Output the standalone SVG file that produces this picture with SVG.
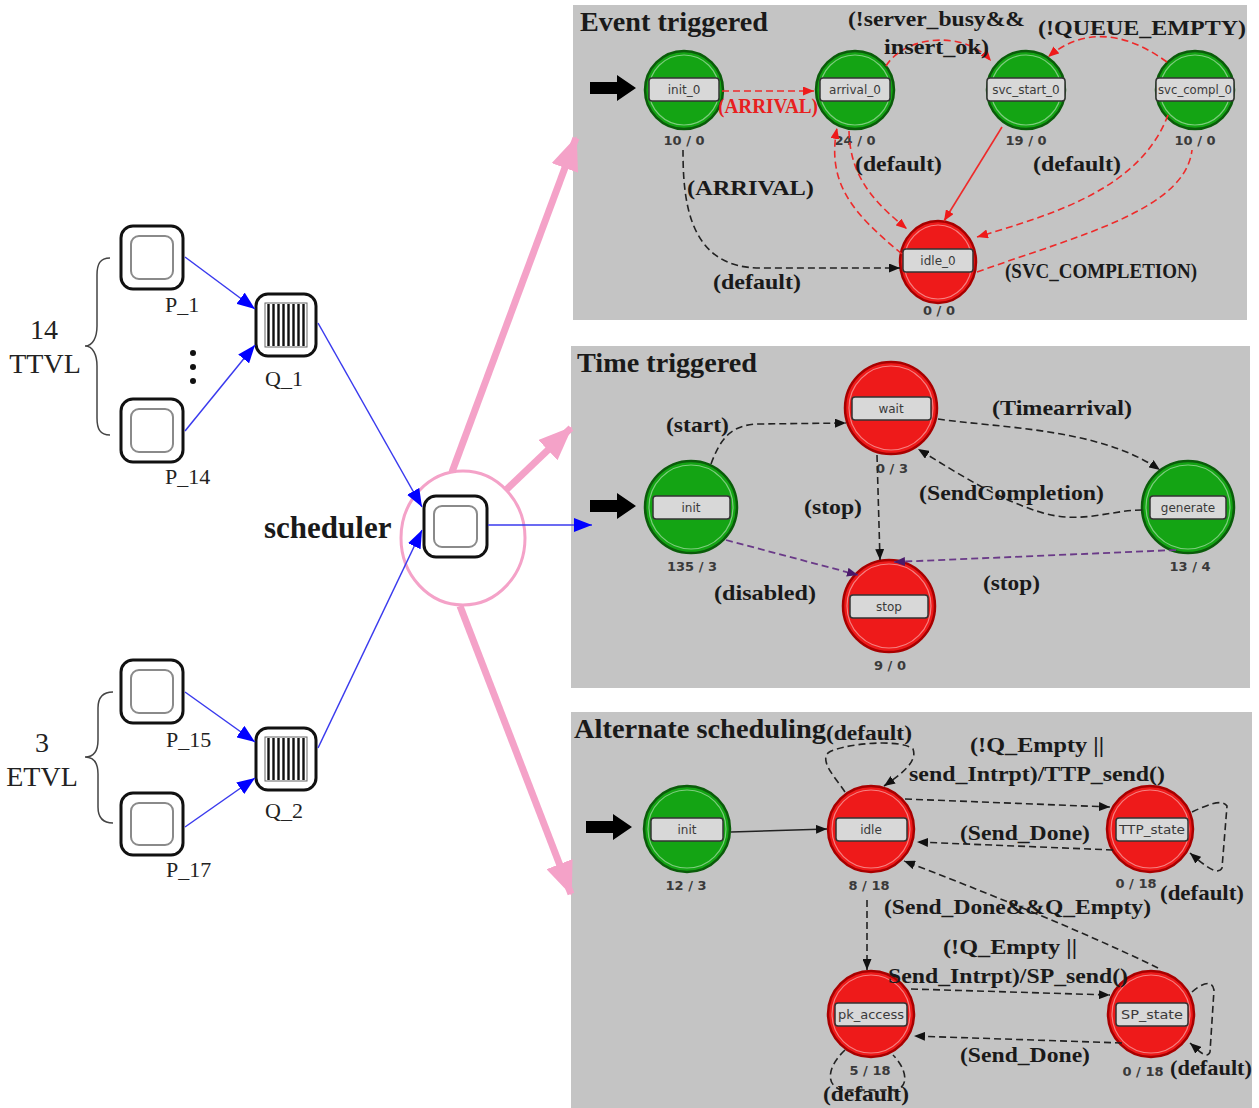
<svg xmlns="http://www.w3.org/2000/svg" width="1259" height="1108" viewBox="0 0 1259 1108">
<defs>
<style>
.panel{fill:#c4c4c4}
.title{font-family:"Liberation Serif",serif;font-weight:bold;font-size:28px;fill:#1a1a1a}
.el{font-family:"Liberation Serif",serif;font-weight:bold;font-size:22px;fill:#1a1a1a}
.red{fill:#e82020}
.nl{font-family:"DejaVu Sans",sans-serif;font-size:12px;fill:#3a3a3a;text-anchor:middle}
.cnt{font-family:"DejaVu Sans",sans-serif;font-size:13px;font-weight:bold;fill:#3a3a3a;text-anchor:middle}
.lft{font-family:"Liberation Serif",serif;font-size:22px;fill:#222}
.big{font-family:"Liberation Serif",serif;font-size:28px;fill:#222;text-anchor:middle}
.gfill{fill:#14a414;stroke:#0a5c0a;stroke-width:2.5}
.rfill{fill:#ee1a1a;stroke:#a80000;stroke-width:2.5}
.ring{fill:none;stroke:#ffffff;stroke-opacity:0.45;stroke-width:1.2}
.lbox{fill:#d8d8d8;stroke:#333;stroke-width:1.5}
.dk{fill:none;stroke:#222;stroke-width:1.6;stroke-dasharray:7 4}
.dr{fill:none;stroke:#ee2a2a;stroke-width:1.6;stroke-dasharray:7 4}
.dp{fill:none;stroke:#6a3a88;stroke-width:1.8;stroke-dasharray:7 4}
.blue{fill:none;stroke:#3a3aee;stroke-width:1.5}
.pink{fill:none;stroke:#f4a2c8;stroke-width:7}
.obox{fill:#fff;stroke:#111;stroke-width:3}
.ibox{fill:none;stroke:#8a8a8a;stroke-width:2}
.brace{fill:none;stroke:#444;stroke-width:1.5}
</style>
<marker id="ak" markerUnits="userSpaceOnUse" markerWidth="11" markerHeight="9" refX="11" refY="4.5" orient="auto"><path d="M0,0 L11,4.5 L0,9 z" fill="#111"/></marker>
<marker id="ar" markerUnits="userSpaceOnUse" markerWidth="11" markerHeight="9" refX="11" refY="4.5" orient="auto"><path d="M0,0 L11,4.5 L0,9 z" fill="#ee1a1a"/></marker>
<marker id="ap" markerUnits="userSpaceOnUse" markerWidth="11" markerHeight="9" refX="11" refY="4.5" orient="auto"><path d="M0,0 L11,4.5 L0,9 z" fill="#4a1a6a"/></marker>
<marker id="ab" markerUnits="userSpaceOnUse" markerWidth="18" markerHeight="14" refX="18" refY="7" orient="auto"><path d="M0,0 L18,7 L0,14 z" fill="#0000ff"/></marker>
<marker id="apk" markerUnits="userSpaceOnUse" markerWidth="34" markerHeight="28" refX="32" refY="14" orient="auto"><path d="M0,0 L34,14 L0,28 z" fill="#f4a2c8"/></marker>
<path id="fat" d="M0,-6 L27,-6 L27,-13 L46,0 L27,13 L27,6 L0,6 z" fill="#000"/>
</defs>
<rect width="1259" height="1108" fill="#fff"/>

<!-- panels -->
<rect class="panel" x="573" y="5" width="674" height="315"/>
<rect class="panel" x="571" y="346" width="679" height="342"/>
<rect class="panel" x="571" y="712" width="681" height="396"/>

<!-- left side nodes -->
<g id="P_1"><rect class="obox" x="121" y="226" width="62" height="63" rx="12"/><rect class="ibox" x="131" y="236" width="42" height="43" rx="8"/><text class="lft" x="165" y="312">P_1</text></g>
<g id="P_14"><rect class="obox" x="121" y="399" width="62" height="63" rx="12"/><rect class="ibox" x="131" y="409" width="42" height="43" rx="8"/><text class="lft" x="165" y="484">P_14</text></g>
<g id="Q_1"><rect class="obox" x="256" y="294" width="60" height="62" rx="12"/><rect x="265" y="303" width="42" height="44" fill="#fff" stroke="#666" stroke-width="1"/>
<path d="M268.5,304V346M273.5,304V346M278.5,304V346M283.5,304V346M288.5,304V346M293.5,304V346M298.5,304V346M303.5,304V346" stroke="#111" stroke-width="2.4"/><text class="lft" x="265" y="386">Q_1</text></g>
<g id="dots" fill="#111"><circle cx="193" cy="353" r="3"/><circle cx="193" cy="367" r="3"/><circle cx="193" cy="381" r="3"/></g>
<g id="TTVL"><path class="brace" d="M110,258 C100,258 97,264 97,275 L97,326 C97,337 93,346 85,346 C93,346 97,355 97,366 L97,418 C97,429 100,435 110,435"/><text class="big" x="44" y="339">14</text><text class="big" x="45" y="373">TTVL</text></g>
<g id="P_15"><rect class="obox" x="121" y="660" width="62" height="63" rx="12"/><rect class="ibox" x="131" y="670" width="42" height="43" rx="8"/><text class="lft" x="166" y="747">P_15</text></g>
<g id="P_17"><rect class="obox" x="121" y="793" width="62" height="62" rx="12"/><rect class="ibox" x="131" y="803" width="42" height="42" rx="8"/><text class="lft" x="166" y="877">P_17</text></g>
<g id="Q_2"><rect class="obox" x="256" y="728" width="60" height="62" rx="12"/><rect x="265" y="737" width="42" height="44" fill="#fff" stroke="#666" stroke-width="1"/>
<path d="M268.5,738V780M273.5,738V780M278.5,738V780M283.5,738V780M288.5,738V780M293.5,738V780M298.5,738V780M303.5,738V780" stroke="#111" stroke-width="2.4"/><text class="lft" x="265" y="818">Q_2</text></g>
<g id="ETVL"><path class="brace" d="M113,692 C103,692 98,698 98,708 L98,740 C98,750 94,757 85,757 C94,757 98,764 98,774 L98,807 C98,817 103,823 113,823"/><text class="big" x="42" y="752">3</text><text class="big" x="42" y="786">ETVL</text></g>

<g id="scheduler">
<ellipse cx="463" cy="538" rx="62" ry="67" fill="none" stroke="#f4a2c8" stroke-width="3"/>
<rect class="obox" x="424" y="496" width="63" height="61" rx="12"/><rect class="ibox" x="434" y="506" width="43" height="41" rx="8"/>
<text x="264" y="538" font-family="Liberation Serif,serif" font-weight="bold" font-size="31" fill="#1a1a1a">scheduler</text>
</g>

<!-- left connectors -->
<g id="left-connectors">
<path class="blue" d="M185,257 L255,309" marker-end="url(#ab)"/>
<path class="blue" d="M185,431 L255,345" marker-end="url(#ab)"/>
<path class="blue" d="M185,692 L255,742" marker-end="url(#ab)"/>
<path class="blue" d="M185,827 L255,778" marker-end="url(#ab)"/>
<path class="blue" d="M318,323 L422,507" marker-end="url(#ab)"/>
<path class="blue" d="M318,748 L422,530" marker-end="url(#ab)"/>
<path class="blue" d="M488,525 L592,525" marker-end="url(#ab)"/>
<path class="pink" d="M452,472 L576,138" marker-end="url(#apk)"/>
<path class="pink" d="M506,490 L571,428" marker-end="url(#apk)"/>
<path class="pink" d="M460,606 L571,894" marker-end="url(#apk)"/>
</g>

<!-- Event triggered -->
<text class="title" x="580" y="31" textLength="188" lengthAdjust="spacingAndGlyphs">Event triggered</text>
<use href="#fat" x="590" y="88"/>
<g id="init_0"><circle class="gfill" cx="684" cy="90" r="39"/><circle class="ring" cx="684" cy="90" r="35"/><rect class="lbox" x="649" y="78" width="70" height="23" rx="3"/><text class="nl" x="684" y="94">init_0</text><text class="cnt" x="684" y="145">10 / 0</text></g>
<g id="arrival_0"><circle class="gfill" cx="855" cy="90" r="39"/><circle class="ring" cx="855" cy="90" r="35"/><rect class="lbox" x="820" y="78" width="70" height="23" rx="3"/><text class="nl" x="855" y="94">arrival_0</text><text class="cnt" x="855" y="145">24 / 0</text></g>
<g id="svc_start_0"><circle class="gfill" cx="1026" cy="90" r="39"/><circle class="ring" cx="1026" cy="90" r="35"/><rect class="lbox" x="987" y="78" width="78" height="23" rx="3"/><text class="nl" x="1026" y="94">svc_start_0</text><text class="cnt" x="1026" y="145">19 / 0</text></g>
<g id="svc_compl_0"><circle class="gfill" cx="1195" cy="90" r="39"/><circle class="ring" cx="1195" cy="90" r="35"/><rect class="lbox" x="1156" y="78" width="78" height="23" rx="3"/><text class="nl" x="1195" y="94" textLength="74" lengthAdjust="spacingAndGlyphs">svc_compl_0</text><text class="cnt" x="1195" y="145">10 / 0</text></g>
<g id="idle_0"><ellipse class="rfill" cx="938" cy="262" rx="38" ry="41"/><ellipse class="ring" cx="938" cy="262" rx="34" ry="37"/><rect class="lbox" x="903" y="249" width="70" height="23" rx="3"/><text class="nl" x="938" y="265">idle_0</text><text class="cnt" x="939" y="315">0 / 0</text></g>

<g id="event-connectors">
<path class="dr" d="M722,91 L814,91" marker-end="url(#ar)"/>
<path class="dr" d="M886,66 C905,35 965,30 991,61" marker-end="url(#ar)"/>
<path class="dr" d="M1167,62 C1120,28 1080,30 1048,57" marker-end="url(#ar)"/>
<path class="dr" d="M902,254 C855,215 826,185 837,128" marker-end="url(#ar)"/>
<path class="dr" d="M849,131 C850,180 878,205 907,229" marker-end="url(#ar)"/>
<path fill="none" stroke="#ee2a2a" stroke-width="1.6" d="M1002,127 L944,221" marker-end="url(#ar)"/>
<path class="dr" d="M1168,115 C1140,190 1050,215 977,237" marker-end="url(#ar)"/>
<path class="dr" d="M977,272 C1080,235 1185,210 1192,150"/>
<path class="dk" d="M683,150 C683,200 688,268 760,268 L900,268" marker-end="url(#ak)"/>
</g>
<g id="event-labels">
<text class="el" x="848" y="26" textLength="177" lengthAdjust="spacingAndGlyphs">(!server_busy&amp;&amp;</text>
<text class="el" x="884" y="54" textLength="105" lengthAdjust="spacingAndGlyphs">insert_ok)</text>
<text class="el" x="1038" y="35" textLength="208" lengthAdjust="spacingAndGlyphs">(!QUEUE_EMPTY)</text>
<text class="el red" x="718" y="113" font-size="20" textLength="100" lengthAdjust="spacingAndGlyphs">(ARRIVAL)</text>
<text class="el" x="855" y="171" textLength="87" lengthAdjust="spacingAndGlyphs">(default)</text>
<text class="el" x="1033" y="171" textLength="88" lengthAdjust="spacingAndGlyphs">(default)</text>
<text class="el" x="687" y="195" textLength="127" lengthAdjust="spacingAndGlyphs">(ARRIVAL)</text>
<text class="el" x="713" y="289" textLength="88" lengthAdjust="spacingAndGlyphs">(default)</text>
<text class="el" x="1005" y="278" font-size="19" textLength="192" lengthAdjust="spacingAndGlyphs">(SVC_COMPLETION)</text>
</g>

<!-- Time triggered -->
<text class="title" x="577" y="372" textLength="180" lengthAdjust="spacingAndGlyphs">Time triggered</text>
<use href="#fat" x="590" y="506"/>
<g id="wait"><circle class="rfill" cx="891" cy="408" r="46"/><circle class="ring" cx="891" cy="408" r="42"/><rect class="lbox" x="852" y="397" width="79" height="23" rx="3"/><text class="nl" x="891" y="413">wait</text><text class="cnt" x="892" y="473">0 / 3</text></g>
<g id="init_t"><circle class="gfill" cx="691" cy="507" r="46"/><circle class="ring" cx="691" cy="507" r="42"/><rect class="lbox" x="653" y="496" width="77" height="23" rx="3"/><text class="nl" x="691" y="512">init</text><text class="cnt" x="692" y="571">135 / 3</text></g>
<g id="generate"><circle class="gfill" cx="1188" cy="507" r="46"/><circle class="ring" cx="1188" cy="507" r="42"/><rect class="lbox" x="1150" y="496" width="76" height="23" rx="3"/><text class="nl" x="1188" y="512">generate</text><text class="cnt" x="1190" y="571">13 / 4</text></g>
<g id="stop"><circle class="rfill" cx="889" cy="606" r="46"/><circle class="ring" cx="889" cy="606" r="42"/><rect class="lbox" x="850" y="595" width="78" height="23" rx="3"/><text class="nl" x="889" y="611">stop</text><text class="cnt" x="890" y="670">9 / 0</text></g>

<g id="time-connectors">
<path class="dk" d="M711,464 C720,440 730,424 760,424 L846,423" marker-end="url(#ak)"/>
<path class="dk" d="M938,419 C1000,428 1100,428 1160,470" marker-end="url(#ak)"/>
<path class="dk" d="M1142,510 C1110,510 1080,525 1040,512 C1000,500 960,475 918,449" marker-end="url(#ak)"/>
<path class="dk" d="M877,455 L880,560" marker-end="url(#ak)"/>
<path class="dp" d="M726,540 L858,575" marker-end="url(#ap)"/>
<path class="dp" d="M1176,550 L894,562" marker-end="url(#ap)"/>
</g>
<g id="time-labels">
<text class="el" x="666" y="432" textLength="63" lengthAdjust="spacingAndGlyphs">(start)</text>
<text class="el" x="992" y="415" textLength="140" lengthAdjust="spacingAndGlyphs">(Timearrival)</text>
<text class="el" x="919" y="500" textLength="185" lengthAdjust="spacingAndGlyphs">(SendCompletion)</text>
<text class="el" x="804" y="514" textLength="58" lengthAdjust="spacingAndGlyphs">(stop)</text>
<text class="el" x="714" y="600" textLength="102" lengthAdjust="spacingAndGlyphs">(disabled)</text>
<text class="el" x="983" y="590" textLength="57" lengthAdjust="spacingAndGlyphs">(stop)</text>
</g>

<!-- Alternate scheduling -->
<text class="title" x="574" y="738" textLength="252" lengthAdjust="spacingAndGlyphs">Alternate scheduling</text>
<use href="#fat" x="586" y="827"/>
<g id="init_a"><circle class="gfill" cx="687" cy="829" r="43"/><circle class="ring" cx="687" cy="829" r="39"/><rect class="lbox" x="651" y="818" width="72" height="23" rx="3"/><text class="nl" x="687" y="834">init</text><text class="cnt" x="686" y="890">12 / 3</text></g>
<g id="idle"><circle class="rfill" cx="871" cy="829" r="43"/><circle class="ring" cx="871" cy="829" r="39"/><rect class="lbox" x="836" y="818" width="71" height="23" rx="3"/><text class="nl" x="871" y="834">idle</text><text class="cnt" x="869" y="890">8 / 18</text></g>
<g id="TTP_state"><circle class="rfill" cx="1150" cy="829" r="43"/><circle class="ring" cx="1150" cy="829" r="39"/><rect class="lbox" x="1116" y="818" width="72" height="23" rx="3"/><text class="nl" x="1152" y="834" textLength="66" lengthAdjust="spacingAndGlyphs">TTP_state</text><text class="cnt" x="1136" y="888">0 / 18</text></g>
<g id="pk_access"><circle class="rfill" cx="871" cy="1014" r="43"/><circle class="ring" cx="871" cy="1014" r="39"/><rect class="lbox" x="835" y="1003" width="72" height="23" rx="3"/><text class="nl" x="871" y="1019" textLength="66" lengthAdjust="spacingAndGlyphs">pk_access</text><text class="cnt" x="870" y="1075">5 / 18</text></g>
<g id="SP_state"><circle class="rfill" cx="1151" cy="1014" r="43"/><circle class="ring" cx="1151" cy="1014" r="39"/><rect class="lbox" x="1116" y="1003" width="72" height="23" rx="3"/><text class="nl" x="1152" y="1019" textLength="62" lengthAdjust="spacingAndGlyphs">SP_state</text><text class="cnt" x="1143" y="1076">0 / 18</text></g>

<g id="alt-connectors">
<path fill="none" stroke="#222" stroke-width="1.6" d="M731,832 L827,829" marker-end="url(#ak)"/>
<path class="dk" d="M845,792 C835,777 820,762 828,753 C840,744 900,738 913,749 C918,762 900,775 884,786" marker-end="url(#ak)"/>
<path class="dk" d="M905,799 L1110,807" marker-end="url(#ak)"/>
<path class="dk" d="M1113,850 L917,842" marker-end="url(#ak)"/>
<path class="dk" d="M1192,812 C1205,806 1222,798 1227,806 L1222,868 C1218,876 1205,866 1190,853" marker-end="url(#ak)"/>
<path class="dk" d="M1158,968 C1080,930 980,890 904,861" marker-end="url(#ak)"/>
<path class="dk" d="M867,900 L867,970" marker-end="url(#ak)"/>
<path class="dk" d="M911,989 L1110,995" marker-end="url(#ak)"/>
<path class="dk" d="M1122,1043 L914,1036" marker-end="url(#ak)"/>
<path class="dk" d="M1192,992 C1200,985 1212,978 1214,990 L1210,1052 C1207,1060 1198,1050 1190,1043" marker-end="url(#ak)"/>
<path class="dk" d="M845,1050 C826,1068 826,1086 842,1090 L896,1090 C910,1086 906,1068 893,1055"/>
</g>
<g id="alt-labels">
<text class="el" x="826" y="740" font-size="20" textLength="86" lengthAdjust="spacingAndGlyphs">(default)</text>
<text class="el" x="970" y="752" textLength="134" lengthAdjust="spacingAndGlyphs">(!Q_Empty ||</text>
<text class="el" x="909" y="781" textLength="256" lengthAdjust="spacingAndGlyphs">send_Intrpt)/TTP_send()</text>
<text class="el" x="960" y="840" textLength="130" lengthAdjust="spacingAndGlyphs">(Send_Done)</text>
<text class="el" x="1160" y="900" textLength="84" lengthAdjust="spacingAndGlyphs">(default)</text>
<text class="el" x="884" y="914" textLength="267" lengthAdjust="spacingAndGlyphs">(Send_Done&amp;&amp;Q_Empty)</text>
<text class="el" x="943" y="954" textLength="134" lengthAdjust="spacingAndGlyphs">(!Q_Empty ||</text>
<text class="el" x="888" y="983" textLength="240" lengthAdjust="spacingAndGlyphs">Send_Intrpt)/SP_send()</text>
<text class="el" x="960" y="1062" textLength="130" lengthAdjust="spacingAndGlyphs">(Send_Done)</text>
<text class="el" x="1170" y="1075" textLength="82" lengthAdjust="spacingAndGlyphs">(default)</text>
<text class="el" x="823" y="1101" textLength="86" lengthAdjust="spacingAndGlyphs">(default)</text>
</g>
</svg>
